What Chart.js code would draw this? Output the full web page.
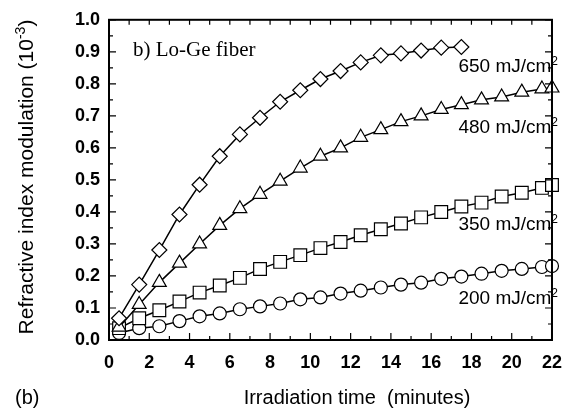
<!DOCTYPE html>
<html>
<head>
<meta charset="utf-8">
<script src="https://cdn.jsdelivr.net/npm/chart.js@4/dist/chart.umd.min.js"></script>
<style>
  html, body { margin: 0; padding: 0; background: #fff; }
</style>
</head>
<body>
<canvas id="chart" width="574" height="410"></canvas>
<script>
// irradiation times (minutes), same for every curve
const times = [0.5, 1.5, 2.5, 3.5, 4.5, 5.5, 6.5, 7.5, 8.5, 9.5, 10.5, 11.5,
  12.5, 13.5, 14.5, 15.5, 16.5, 17.5, 18.5, 19.5, 20.5, 21.5, 22];

// refractive index modulation (10^-3)
const fluence650 = [0.068, 0.173, 0.281, 0.392, 0.485, 0.574, 0.642, 0.694, 0.744,
  0.780, 0.815, 0.840, 0.867, 0.889, 0.895, 0.904, 0.913, 0.915];
const fluence480 = [0.040, 0.111, 0.180, 0.240, 0.300, 0.358, 0.410, 0.455, 0.496,
  0.537, 0.574, 0.600, 0.633, 0.657, 0.682, 0.700, 0.720, 0.735, 0.750, 0.759,
  0.774, 0.784, 0.787];
const fluence350 = [0.037, 0.068, 0.093, 0.120, 0.148, 0.170, 0.194, 0.222, 0.244,
  0.265, 0.287, 0.306, 0.327, 0.346, 0.364, 0.383, 0.400, 0.417, 0.429, 0.448,
  0.460, 0.475, 0.484];
const fluence200 = [0.022, 0.037, 0.043, 0.059, 0.074, 0.083, 0.096, 0.105, 0.114,
  0.127, 0.133, 0.145, 0.154, 0.164, 0.173, 0.179, 0.191, 0.198, 0.207, 0.216,
  0.222, 0.228, 0.231];

const seriesLabels = ["650 mJ/cm", "480 mJ/cm", "350 mJ/cm", "200 mJ/cm"];

const xTicks = [0, 2, 4, 6, 8, 10, 12, 14, 16, 18, 20, 22];
const yTicks = [0, 0.1, 0.2, 0.3, 0.4, 0.5, 0.6, 0.7, 0.8, 0.9, 1.0];

const SANS = '"Liberation Sans", Arial, sans-serif';
const SERIF = '"Liberation Serif", "Times New Roman", serif';

function points(values) {
  return values.map((v, i) => ({ x: times[i], y: v }));
}

function series(label, values, style, radius) {
  return {
    label,
    data: points(values),
    borderColor: "#000",
    borderWidth: 1.5,
    pointStyle: style,
    pointRadius: radius,
    pointBorderWidth: 1.2,
    pointBackgroundColor: "#fff",
    pointBorderColor: "#000",
    clip: 12
  };
}

// text with a small raised part, e.g. cm² or (10⁻³)
function supText(ctx, parts, x, y, size, align) {
  ctx.save();
  ctx.textBaseline = "middle";
  ctx.textAlign = "left";
  const small = Math.round(size * 0.65);
  let total = 0;
  parts.forEach(p => {
    ctx.font = (p.sup ? small : size) + "px " + SANS;
    total += ctx.measureText(p.t).width;
  });
  let cx = align === "right" ? x - total : align === "center" ? x - total / 2 : x;
  parts.forEach(p => {
    ctx.font = (p.sup ? small : size) + "px " + SANS;
    ctx.fillText(p.t, cx, p.sup ? y - size * 0.3 : y);
    cx += ctx.measureText(p.t).width;
  });
  ctx.restore();
}

const framePlugin = {
  id: "frame",
  afterDraw(chart) {
    const { ctx, chartArea: a, scales } = chart;
    const xs = scales.x, ys = scales.y;
    ctx.save();
    ctx.strokeStyle = "#000";
    ctx.fillStyle = "#000";

    // inward ticks
    ctx.lineWidth = 1.2;
    ctx.beginPath();
    for (let v = 0; v <= 22; v++) {
      const px = xs.getPixelForValue(v);
      const len = v % 2 === 0 ? 7 : 4;
      ctx.moveTo(px, a.bottom); ctx.lineTo(px, a.bottom - len);
      ctx.moveTo(px, a.top); ctx.lineTo(px, a.top + 5);
    }
    for (let k = 0; k <= 20; k++) {
      const py = ys.getPixelForValue(k * 0.05);
      const len = k % 2 === 0 ? 7 : 4;
      ctx.moveTo(a.left, py); ctx.lineTo(a.left + len, py);
      ctx.moveTo(a.right, py); ctx.lineTo(a.right - len, py);
    }
    ctx.stroke();

    // box
    ctx.lineWidth = 2;
    ctx.strokeRect(a.left, a.top, a.right - a.left, a.bottom - a.top);

    // curve labels
    const labelY = [67, 128, 225, 299];
    seriesLabels.forEach((t, i) => {
      supText(ctx, [{ t }, { t: "2", sup: true }], 558, labelY[i], 19, "right");
    });

    // panel note
    ctx.font = "21px " + SERIF;
    ctx.textBaseline = "middle";
    ctx.textAlign = "left";
    ctx.fillText("b) Lo-Ge fiber", 133, 50);

    // axis titles
    supText(ctx, [{ t: "Irradiation time  (minutes)" }], 357, 398, 20, "center");
    supText(ctx, [{ t: "(b)" }], 15, 398, 20, "left");
    ctx.translate(27, 177);
    ctx.rotate(-Math.PI / 2);
    supText(ctx, [{ t: "Refractive index modulation (10" }, { t: "-3", sup: true }, { t: ")" }],
      0, 0, 21, "center");
    ctx.restore();
  }
};

new Chart(document.getElementById("chart"), {
  type: "line",
  data: {
    datasets: [
      series(seriesLabels[0], fluence650, "rectRot", 7.5),
      series(seriesLabels[1], fluence480, "triangle", 8),
      series(seriesLabels[2], fluence350, "rect", 9),
      series(seriesLabels[3], fluence200, "circle", 6.5)
    ]
  },
  options: {
    responsive: false,
    animation: false,
    layout: { padding: { top: 16, right: 11, left: 0, bottom: 0 } },
    plugins: {
      legend: { display: false },
      tooltip: { enabled: false }
    },
    scales: {
      x: {
        type: "linear",
        min: 0,
        max: 22,
        afterFit: s => { s.height = 70; },
        afterBuildTicks: s => { s.ticks = xTicks.map(v => ({ value: v })); },
        grid: { display: false, drawTicks: false },
        border: { display: false },
        ticks: {
          color: "#000",
          padding: 12,
          font: { family: SANS, size: 18, weight: "bold" }
        }
      },
      y: {
        type: "linear",
        min: 0,
        max: 1,
        afterFit: s => { s.width = 109; },
        afterBuildTicks: s => { s.ticks = yTicks.map(v => ({ value: v })); },
        grid: { display: false, drawTicks: false },
        border: { display: false },
        ticks: {
          color: "#000",
          padding: 9,
          font: { family: SANS, size: 18, weight: "bold" },
          callback: v => v.toFixed(1)
        }
      }
    }
  },
  plugins: [framePlugin]
});
</script>
</body>
</html>
